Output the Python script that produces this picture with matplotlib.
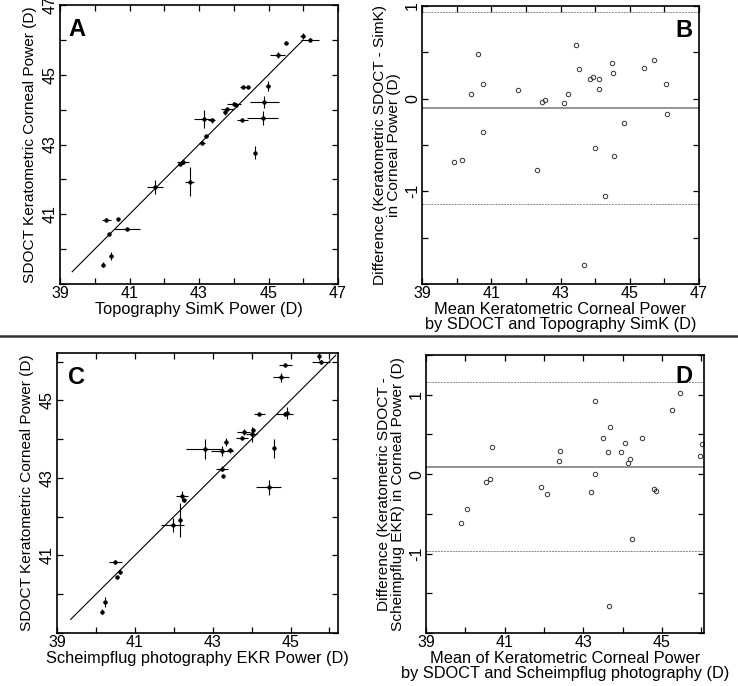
import matplotlib
matplotlib.use("Agg")
import matplotlib.pyplot as plt
from matplotlib.lines import Line2D
import numpy as np

plt.rcParams['font.family'] = ['Liberation Sans', 'DejaVu Sans']

# ---------------- Panel A data: Topography SimK vs SDOCT ----------------
a_x = [45.98, 46.19, 45.50, 45.26, 44.98, 44.28, 44.40, 44.88, 44.00, 44.06,
       43.82, 43.74, 43.15, 43.37, 44.25, 44.83, 44.60, 43.21, 43.09, 42.55,
       42.46, 42.73, 41.72, 40.33, 40.68, 40.93, 40.41, 40.47, 40.25]
a_y = [46.12, 46.00, 45.90, 45.56, 44.68, 44.65, 44.65, 44.22, 44.17, 44.12,
       44.03, 43.92, 43.72, 43.69, 43.71, 43.76, 42.77, 43.24, 43.05, 42.51,
       42.45, 41.93, 41.78, 40.84, 40.85, 40.57, 40.44, 39.80, 39.55]
a_xerr = [0.06, 0.26, 0.05, 0.22, 0.06, 0.10, 0.08, 0.41, 0.20, 0.05,
          0.20, 0.03, 0.28, 0.10, 0.15, 0.45, 0.03, 0.06, 0.08, 0.17,
          0.05, 0.13, 0.23, 0.13, 0.02, 0.37, 0.04, 0.05, 0.03]
a_yerr = [0.08, 0.06, 0.03, 0.08, 0.14, 0.03, 0.03, 0.17, 0.04, 0.03,
          0.03, 0.07, 0.26, 0.06, 0.03, 0.20, 0.19, 0.04, 0.02, 0.06,
          0.03, 0.42, 0.19, 0.04, 0.03, 0.02, 0.03, 0.11, 0.07]

# ---------------- Panel B data: Bland-Altman SDOCT - SimK ----------------
b_mean = [39.91, 40.15, 40.42, 40.61, 40.77, 40.77, 41.76, 42.32, 42.47, 42.54,
          43.09, 43.22, 43.45, 43.53, 43.69, 43.84, 43.94, 44.00, 44.10, 44.10,
          44.29, 44.48, 44.52, 44.55, 44.84, 45.42, 45.71, 46.04, 46.09]
b_diff = [-0.685, -0.667, 0.047, 0.487, 0.161, -0.358, 0.097, -0.774, -0.039, -0.014,
          -0.050, 0.054, 0.581, 0.319, -1.796, 0.208, 0.237, -0.527, 0.211, 0.104,
          -1.047, 0.380, 0.272, -0.620, -0.265, 0.330, 0.412, 0.154, -0.165]
b_bias = -0.10
b_loa = [0.935, -1.14]

# ---------------- Panel C data: Scheimpflug EKR vs SDOCT ----------------
c_x = [45.74, 45.78, 44.87, 44.76, 44.20, 44.85, 44.92, 43.80, 43.76, 44.00,
       44.03, 43.34, 42.79, 43.24, 43.44, 44.57, 43.24, 43.27, 44.44, 42.22,
       42.26, 42.17, 41.97, 40.50, 40.63, 40.55, 40.24, 40.16]
c_y = [46.13, 46.00, 45.90, 45.59, 44.65, 44.64, 44.68, 44.19, 44.04, 44.12,
       44.23, 43.93, 43.74, 43.69, 43.71, 43.76, 43.24, 43.05, 42.76, 42.53,
       42.42, 41.91, 41.79, 40.84, 40.57, 40.44, 39.80, 39.55]
c_xerr = [0.03, 0.24, 0.16, 0.21, 0.15, 0.22, 0.05, 0.17, 0.15, 0.15,
          0.04, 0.04, 0.48, 0.28, 0.08, 0.03, 0.15, 0.03, 0.32, 0.15,
          0.03, 0.03, 0.30, 0.16, 0.03, 0.04, 0.05, 0.03]
c_yerr = [0.08, 0.05, 0.02, 0.12, 0.02, 0.05, 0.15, 0.08, 0.03, 0.19,
          0.05, 0.11, 0.25, 0.13, 0.06, 0.24, 0.06, 0.03, 0.19, 0.13,
          0.04, 0.43, 0.18, 0.05, 0.04, 0.04, 0.12, 0.07]

# ---------------- Panel D data: Bland-Altman SDOCT - Scheimpflug ----------------
d_mean = [39.88, 40.04, 40.53, 40.64, 40.69, 41.92, 42.08, 42.39, 42.42, 43.20,
          43.29, 43.31, 43.51, 43.64, 43.66, 43.69, 43.96, 44.05, 44.14, 44.19,
          44.23, 44.49, 44.81, 44.86, 45.25, 45.46, 45.97, 46.01]
d_diff = [-0.613, -0.433, -0.105, -0.063, 0.340, -0.168, -0.244, 0.164, 0.290, -0.223,
          0.004, 0.924, 0.454, 0.282, -1.664, 0.597, 0.277, 0.391, 0.139, 0.193,
          -0.819, 0.454, -0.189, -0.218, 0.811, 1.025, 0.227, 0.374]
d_bias = 0.09
d_loa = [1.16, -0.97]

W, H = 738, 686
fig = plt.figure(figsize=(W / 100, H / 100), dpi=100)


def box(l, t, r, b):
    return [l / W, 1 - b / H, (r - l) / W, (b - t) / H]


TICK_FS = 11.5
XLAB_FS = 11.8
YLAB_FS = 11.1


def style(ax, xlim, ylim, xticks, xlabels, yticks, ylabels):
    ax.set_xlim(*xlim)
    ax.set_ylim(*ylim)
    ax.set_xticks(xticks)
    ax.set_xticklabels(xlabels, fontsize=TICK_FS)
    ax.set_yticks(yticks)
    ax.set_yticklabels(ylabels, fontsize=TICK_FS, rotation=90, va='center')
    ax.tick_params(direction='in', top=True, right=True, length=4, width=0.9,
                   pad=1.5, colors='black')
    for s in ax.spines.values():
        s.set_linewidth(1.2)
        s.set_color('black')


def scatter_panel(ax, x, y, xe, ye, lo, hi):
    ax.errorbar(x, y, xerr=xe, yerr=ye, fmt='o', ms=2.6, color='black',
                ecolor='black', elinewidth=0.8, capsize=0, mew=0.5)
    xs = np.array([lo, hi])
    ax.plot(xs, xs, color='black', lw=0.8)


def ba_panel(ax, m, d, bias, loa):
    ax.plot(m, d, 'o', ms=3.2, mfc='none', mec='#333333', mew=0.7)
    ax.axhline(bias, color='#8a8a8a', lw=1.3)
    for v in loa:
        ax.axhline(v, color='#888888', lw=0.7, ls=(0, (2, 1)))


odd = lambda lo, hi: [str(v) if v % 2 == 1 else '' for v in range(lo, hi + 1)]

# ---- A ----
axA = fig.add_axes(box(60, 5, 338, 284))
scatter_panel(axA, a_x, a_y, a_xerr, a_yerr, 39.35, 46.0)
style(axA, (39, 47), (39, 47), range(39, 48), odd(39, 47),
      range(39, 48), [''] + odd(40, 47))
axA.set_xlabel('Topography SimK Power (D)', fontsize=XLAB_FS, labelpad=1)
axA.set_ylabel('SDOCT Keratometric Corneal Power (D)', fontsize=YLAB_FS, labelpad=4)
axA.text(0.03, 0.955, 'A', transform=axA.transAxes, fontsize=17,
         fontweight='bold', ha='left', va='top')

# ---- B ----
axB = fig.add_axes(box(422, 6, 699, 284))
ba_panel(axB, b_mean, b_diff, b_bias, b_loa)
style(axB, (39, 47), (-2, 1), range(39, 48), odd(39, 47),
      np.arange(-2, 1.01, 0.5), ['', '', '-1', '', '0', '', '1'])
axB.set_xlabel('Mean Keratometric Corneal Power\nby SDOCT and Topography SimK (D)',
               fontsize=XLAB_FS, labelpad=1, linespacing=0.95)
axB.set_ylabel('Difference (Keratometric SDOCT - SimK)\nin Corneal Power (D)',
               fontsize=YLAB_FS, labelpad=3, linespacing=0.95)
axB.text(0.975, 0.955, 'B', transform=axB.transAxes, fontsize=17,
         fontweight='bold', ha='right', va='top')

# ---- C ----
axC = fig.add_axes(box(57, 353, 338, 633))
scatter_panel(axC, c_x, c_y, c_xerr, c_yerr, 39.35, 46.16)
style(axC, (39, 46.22), (39, 46.22), range(39, 47), odd(39, 46),
      range(39, 47), [''] + odd(40, 46))
axC.set_xlabel('Scheimpflug photography EKR Power (D)', fontsize=XLAB_FS, labelpad=1)
axC.set_ylabel('SDOCT Keratometric Corneal Power (D)', fontsize=YLAB_FS, labelpad=4)
axC.text(0.04, 0.955, 'C', transform=axC.transAxes, fontsize=17,
         fontweight='bold', ha='left', va='top')

# ---- D ----
axD = fig.add_axes(box(426, 355, 704, 633))
ba_panel(axD, d_mean, d_diff, d_bias, d_loa)
style(axD, (39, 46.07), (-2, 1.5), range(39, 47), odd(39, 46),
      np.arange(-2, 1.51, 0.5), ['', '', '-1', '', '0', '', '1', ''])
axD.set_xlabel('Mean of Keratometric Corneal Power\nby SDOCT and Scheimpflug photography (D)',
               fontsize=XLAB_FS, labelpad=1, linespacing=0.95)
axD.set_ylabel('Difference (Keratometric SDOCT -\nScheimpflug EKR) in Corneal Power (D)',
               fontsize=YLAB_FS, labelpad=3, linespacing=0.95)
axD.text(0.96, 0.965, 'D', transform=axD.transAxes, fontsize=17,
         fontweight='bold', ha='right', va='top')

# separator line
fig.add_artist(Line2D([0, 1], [1 - 336 / H, 1 - 336 / H], transform=fig.transFigure,
                      color='#333333', lw=1.8))

fig.savefig('out.png', dpi=100)
